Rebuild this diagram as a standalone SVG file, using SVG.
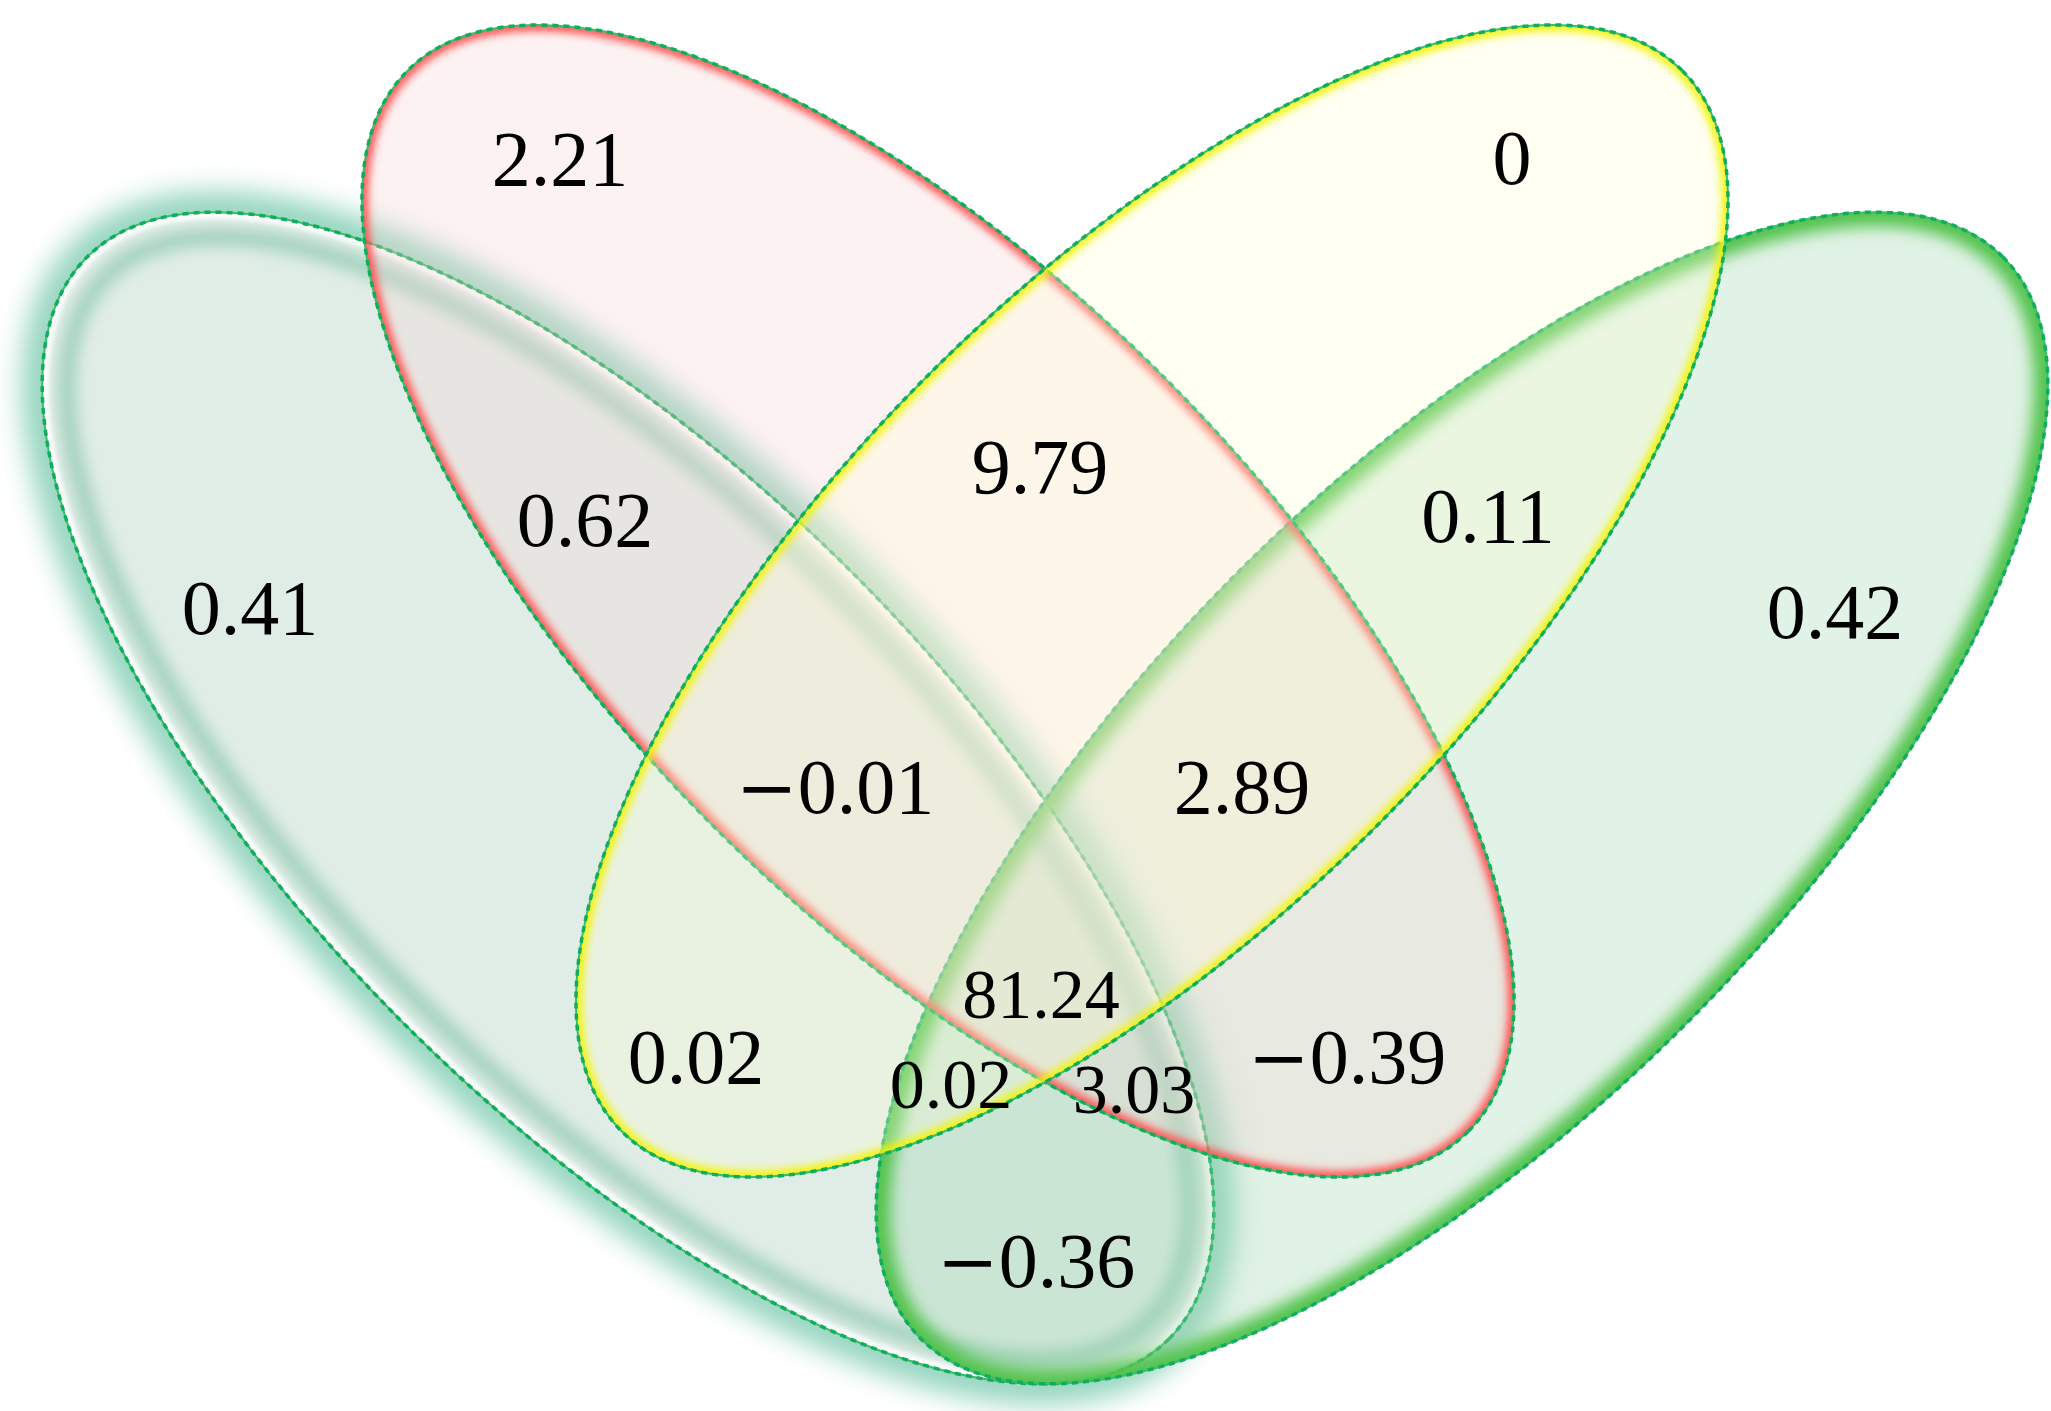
<svg xmlns="http://www.w3.org/2000/svg" width="2051" height="1411" viewBox="0 0 2051 1411">
<defs>
  <clipPath id="inL"><ellipse cx="0" cy="0" rx="765" ry="318"/></clipPath>
  <clipPath id="inS"><ellipse cx="0" cy="0" rx="750" ry="318"/></clipPath>
  <clipPath id="outL" clip-rule="evenodd"><path clip-rule="evenodd" d="M-1000,-600 H1000 V600 H-1000 Z M-765,0 A765,318 0 1,0 765,0 A765,318 0 1,0 -765,0 Z"/></clipPath>
  <filter id="b14" x="-20%" y="-40%" width="140%" height="180%"><feGaussianBlur stdDeviation="14"/></filter>
  <filter id="b8" x="-20%" y="-40%" width="140%" height="180%"><feGaussianBlur stdDeviation="8"/></filter>
  <filter id="b4" x="-20%" y="-40%" width="140%" height="180%"><feGaussianBlur stdDeviation="4"/></filter>
  <filter id="b2" x="-20%" y="-40%" width="140%" height="180%"><feGaussianBlur stdDeviation="2"/></filter>
</defs>
<style>
  .lab{font-family:"Liberation Serif","Times New Roman",serif;font-size:78px;fill:#000;text-anchor:middle}
  .sm{font-size:70px}
  .mn{font-family:"DejaVu Serif","DejaVu Sans",serif;font-size:74px}
  .line{fill:none;stroke:#3bbb6e;stroke-width:2}
  .dash{fill:none;stroke:#0fae5c;stroke-width:3.5;stroke-dasharray:6 5}
</style>
<rect width="2051" height="1411" fill="#fff"/>

<g id="set-teal" transform="translate(628 798) rotate(45)">
  <g clip-path="url(#outL)">
    <ellipse rx="765" ry="318" fill="none" stroke="#8fd3bb" stroke-width="40" filter="url(#b14)"/>
  </g>
  <ellipse rx="765" ry="318" fill="#98c3af" fill-opacity="0.3"/>
  <g clip-path="url(#inL)">
    <ellipse rx="765" ry="318" fill="none" stroke="#ffffff" stroke-width="14" filter="url(#b2)"/>
    <ellipse rx="738" ry="292" fill="none" stroke="#9ccfb8" stroke-width="16" filter="url(#b8)"/>
  </g>
  <ellipse class="line" rx="765" ry="318"/>
  <ellipse class="dash" rx="765" ry="318"/>
</g>

<g id="set-green" transform="translate(1462 798) rotate(-45)">
  <ellipse rx="765" ry="318" fill="#9bd4ac" fill-opacity="0.3"/>
  <g clip-path="url(#inL)">
    <ellipse rx="765" ry="318" fill="none" stroke="#4fc24a" stroke-width="28" filter="url(#b8)"/>
  </g>
  <ellipse class="line" rx="765" ry="318"/>
  <ellipse class="dash" rx="765" ry="318"/>
</g>

<g id="set-red" transform="translate(938 601) rotate(45)">
  <ellipse rx="750" ry="318" fill="#f8d4d4" fill-opacity="0.3"/>
  <g clip-path="url(#inS)">
    <ellipse rx="750" ry="318" fill="none" stroke="#ff5050" stroke-width="12" filter="url(#b4)"/>
  </g>
  <ellipse class="line" rx="750" ry="318"/>
  <ellipse class="dash" rx="750" ry="318"/>
</g>

<g id="set-yellow" transform="translate(1152 601) rotate(-45)">
  <ellipse rx="750" ry="318" fill="#ffffd4" fill-opacity="0.3"/>
  <g clip-path="url(#inS)">
    <ellipse rx="750" ry="318" fill="none" stroke="#f4f400" stroke-width="12" filter="url(#b4)"/>
  </g>
  <ellipse class="line" rx="750" ry="318"/>
  <ellipse class="dash" rx="750" ry="318"/>
</g>

<g id="labels">
  <text class="lab" x="560" y="185">2.21</text>
  <text class="lab" x="1512" y="184">0</text>
  <text class="lab" x="585" y="546">0.62</text>
  <text class="lab" x="250" y="634">0.41</text>
  <text class="lab" x="1040" y="493">9.79</text>
  <text class="lab" x="1488" y="542">0.11</text>
  <text class="lab" x="1835" y="638">0.42</text>
  <text class="lab" x="835" y="813"><tspan class="mn">−</tspan>0.01</text>
  <text class="lab" x="1242" y="813">2.89</text>
  <text class="lab" x="696" y="1083">0.02</text>
  <text class="lab sm" x="1041" y="1018">81.24</text>
  <text class="lab sm" x="951" y="1108">0.02</text>
  <text class="lab sm" x="1134" y="1113">3.03</text>
  <text class="lab" x="1347" y="1083"><tspan class="mn">−</tspan>0.39</text>
  <text class="lab" x="1036" y="1287"><tspan class="mn">−</tspan>0.36</text>
</g>
</svg>
